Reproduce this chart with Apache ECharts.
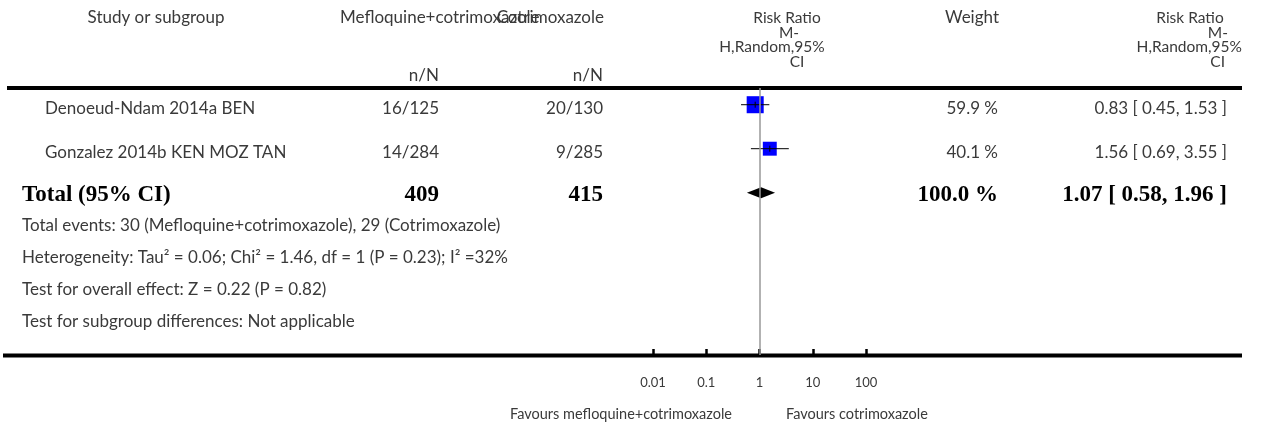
<!DOCTYPE html>
<html>
<head>
<meta charset="utf-8">
<script src="https://cdn.jsdelivr.net/npm/echarts@6/dist/echarts.min.js"></script>
<style>
html, body { margin: 0; padding: 0; background: #fff; }
#chart { width: 1268px; height: 423px; }
</style>
</head>
<body>
<div id="chart"></div>
<script>
// study rows
const studies = ["Denoeud-Ndam 2014a BEN", "Gonzalez 2014b KEN MOZ TAN"]
const treatEvents = ["16/125", "14/284"]
const controlEvents = ["20/130", "9/285"]
const riskRatio = [0.83, 1.56]
const ciLow = [0.45, 0.69]
const ciHigh = [1.53, 3.55]
const weights = [59.9, 40.1]

// pooled row
const totalLabel = "Total (95% CI)"
const totalTreat = 409
const totalControl = 415
const totalRR = 1.07
const totalLow = 0.58
const totalHigh = 1.96
const totalWeight = 100.0

const tickValues = [0.01, 0.1, 1, 10, 100]
const tickLabels = ["0.01", "0.1", "1", "10", "100"]
const footnotes = [
  "Total events: 30 (Mefloquine+cotrimoxazole), 29 (Cotrimoxazole)",
  "Heterogeneity: Tau\u00b2 = 0.06; Chi\u00b2 = 1.46, df = 1 (P = 0.23); I\u00b2 =32%",
  "Test for overall effect: Z = 0.22 (P = 0.82)",
  "Test for subgroup differences: Not applicable",
]
const favoursLeft = "Favours mefloquine+cotrimoxazole"
const favoursRight = "Favours cotrimoxazole"

const FONT = "Lato, 'Open Sans', sans-serif"
const SERIF = "'Liberation Serif', 'DejaVu Serif', serif"
const TXT = "#3a3a3a"
const SIZE = 17

// column anchors (px)
const col = { name: 45, total: 22, treat: 439, control: 603, weight: 998, rr: 1227 }

const fmt2 = (v) => v.toFixed(2)

function cell(x, y, text, align, bold) {
  return {
    type: "text",
    x: x,
    y: y,
    silent: true,
    style: {
      text: text,
      textAlign: align,
      textVerticalAlign: "middle",
      fill: bold ? "#000" : TXT,
      font: bold ? "bold 23px " + SERIF : SIZE + "px " + FONT,
    },
  }
}

const studyData = studies.map((s, i) => [riskRatio[i], i, ciLow[i], ciHigh[i], weights[i]])
const totalData = [[totalRR, studies.length, totalLow, totalHigh, totalWeight]]

function renderStudy(params, api) {
  const i = params.dataIndex
  const row = api.value(1)
  const p = api.coord([api.value(0), row])
  const lo = api.coord([api.value(2), row])
  const hi = api.coord([api.value(3), row])
  const s = 2.2 * Math.sqrt(api.value(4))
  const y = p[1]
  const ty = y + 4
  return {
    type: "group",
    children: [
      { type: "rect", shape: { x: p[0] - s / 2, y: y - s / 2, width: s, height: s }, style: { fill: "#0000ff" } },
      { type: "line", shape: { x1: lo[0], y1: y, x2: hi[0], y2: y }, style: { stroke: "#000", lineWidth: 1 } },
      { type: "line", shape: { x1: p[0], y1: y - 3, x2: p[0], y2: y + 3 }, style: { stroke: "#000", lineWidth: 1 } },
      cell(col.name, ty, studies[i], "left"),
      cell(col.treat, ty, treatEvents[i], "right"),
      cell(col.control, ty, controlEvents[i], "right"),
      cell(col.weight, ty, weights[i].toFixed(1) + " %", "right"),
      cell(col.rr, ty, fmt2(riskRatio[i]) + " [ " + fmt2(ciLow[i]) + ", " + fmt2(ciHigh[i]) + " ]", "right"),
    ],
  }
}

function renderTotal(params, api) {
  const row = api.value(1)
  const p = api.coord([api.value(0), row])
  const lo = api.coord([api.value(2), row])
  const hi = api.coord([api.value(3), row])
  const y = p[1]
  const ty = y + 2
  return {
    type: "group",
    children: [
      {
        type: "polygon",
        shape: { points: [[lo[0], y], [p[0], y - 5.5], [hi[0], y], [p[0], y + 5.5]] },
        style: { fill: "#000" },
      },
      cell(col.total, ty, totalLabel, "left", true),
      cell(col.treat, ty, String(totalTreat), "right", true),
      cell(col.control, ty, String(totalControl), "right", true),
      cell(col.weight, ty, totalWeight.toFixed(1) + " %", "right", true),
      cell(col.rr, ty, fmt2(totalRR) + " [ " + fmt2(totalLow) + ", " + fmt2(totalHigh) + " ]", "right", true),
    ],
  }
}

function label(x, y, text, align, size) {
  return {
    type: "text",
    x: x,
    y: y,
    silent: true,
    style: { text: text, textAlign: align, textVerticalAlign: "middle", fill: TXT, font: (size || SIZE) + "px " + FONT },
  }
}

const HS = 15.5 // stacked header lines
const graphics = [
  { type: "line", shape: { x1: 7, y1: 88, x2: 1242, y2: 88 }, style: { stroke: "#000", lineWidth: 4 } },
  { type: "line", shape: { x1: 3, y1: 355.5, x2: 1242, y2: 355.5 }, style: { stroke: "#000", lineWidth: 4 } },
  label(156, 18, "Study or subgroup", "center"),
  label(340, 18, "Mefloquine+cotrimoxazole", "left"),
  label(604, 18, "Cotrimoxazole", "right"),
  label(col.treat, 76, "n/N", "right"),
  label(col.control, 76, "n/N", "right"),
  label(787, 18, "Risk Ratio", "center", HS),
  label(789, 32.5, "M-", "center", HS),
  label(772, 47, "H,Random,95%", "center", HS),
  label(797, 61.5, "CI", "center", HS),
  label(972, 18, "Weight", "center"),
  label(1190, 18, "Risk Ratio", "center", HS),
  label(1228, 32.5, "M-", "right", HS),
  label(1242, 47, "H,Random,95%", "right", HS),
  label(1225, 61.5, "CI", "right", HS),
  label(732, 414, favoursLeft, "right", 14.5),
  label(786, 414, favoursRight, "left", 14.5),
]
footnotes.forEach((t, i) => graphics.push(label(22, 226 + i * 31.7, t, "left")))

const chart = echarts.init(document.getElementById("chart"))
chart.setOption({
  animation: false,
  grid: { left: 653, width: 213, top: 88, height: 267 },
  xAxis: {
    type: "log",
    logBase: 10,
    min: tickValues[0],
    max: tickValues[tickValues.length - 1],
    splitNumber: tickValues.length - 1,
    axisLine: { show: false, onZero: false },
    axisTick: { show: true, inside: true, length: 6, lineStyle: { color: "#000", width: 2.5 } },
    splitLine: { show: false },
    axisLabel: {
      margin: 21,
      color: TXT,
      fontFamily: FONT,
      fontSize: 13,
      formatter: (v) => {
        const k = tickValues.findIndex((t) => Math.abs(Math.log10(t) - Math.log10(v)) < 1e-6)
        return k >= 0 ? tickLabels[k] : ""
      },
    },
  },
  yAxis: { type: "value", min: -0.38, max: 5.69, inverse: true, show: false },
  graphic: graphics,
  series: [
    {
      type: "custom",
      renderItem: renderStudy,
      data: studyData,
      clip: false,
      z: 3,
      markLine: {
        silent: true,
        symbol: "none",
        label: { show: false },
        lineStyle: { color: "#999", type: "solid", width: 1.5 },
        data: [{ xAxis: 1 }],
      },
    },
    { type: "custom", renderItem: renderTotal, data: totalData, clip: false, z: 3 },
  ],
})
</script>
</body>
</html>
